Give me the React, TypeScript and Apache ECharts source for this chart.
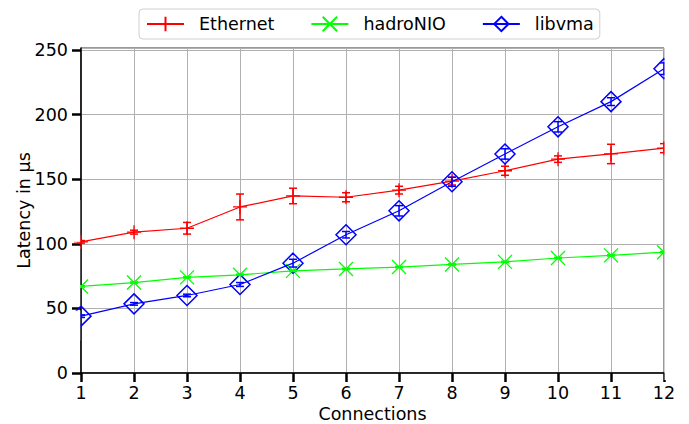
import React, { useEffect, useRef } from "react";
import * as echarts from "echarts";

const connections = [1, 2, 3, 4, 5, 6, 7, 8, 9, 10, 11, 12];
const ethernet = [101.5, 109, 112, 128.5, 137, 136, 141.5, 148.5, 156.5, 165.5, 169.5, 174];
const ethernetErr = [1, 1.5, 4.5, 10, 6, 3.5, 3, 3, 3.5, 2.5, 7.5, 3.5];
const hadroNIO = [67, 70, 74, 76, 79, 80.5, 82, 84, 86, 89, 91, 93.5];
const hadroNIOErr = [0.5, 0.5, 0.5, 0.5, 0.5, 0.5, 0.5, 0.5, 0.5, 0.5, 0.5, 0.5];
const libvma = [44, 53.5, 60, 68.5, 85, 107, 125.5, 148, 169.5, 190.5, 210, 235.5];
const libvmaErr = [1, 1, 1, 1.5, 3, 2.5, 4, 3.5, 4, 4, 3, 4.5];
const yTicks = [0, 50, 100, 150, 200, 250];

const FONT = "DejaVu Sans";
const FS = 17.5;
const PLUS = "path://M0,7 L14,7 M7,0 L7,14";
const CROSS = "path://M0,0 L14,14 M14,0 L0,14";
const DIAMOND = "path://M7,0 L14,7 L7,14 L0,7 Z";

function errSeries(name: string, vals: number[], errs: number[], color: string) {
  return {
    type: "custom",
    name: name + "_err",
    z: 5,
    silent: true,
    data: connections.map((c, i) => [c, vals[i] - errs[i], vals[i] + errs[i]]),
    renderItem: (params: any, api: any) => {
      const x = api.value(0);
      const p1 = api.coord([x, api.value(1)]);
      const p2 = api.coord([x, api.value(2)]);
      const w = 4;
      const st = { stroke: color, lineWidth: 1.5 };
      return {
        type: "group",
        children: [
          { type: "line", shape: { x1: p1[0], y1: p1[1], x2: p2[0], y2: p2[1] }, style: st },
          { type: "line", shape: { x1: p1[0] - w, y1: p1[1], x2: p1[0] + w, y2: p1[1] }, style: st },
          { type: "line", shape: { x1: p2[0] - w, y1: p2[1], x2: p2[0] + w, y2: p2[1] }, style: st },
        ],
      };
    },
  };
}

export default function App() {
  const ref = useRef<HTMLDivElement>(null);
  useEffect(() => {
    document.body.style.margin = "0";
    const chart = echarts.init(ref.current!, undefined, { renderer: "svg" });
    const white = { fill: "#fff" };
    chart.setOption({
      animation: false,
      backgroundColor: "#fff",
      textStyle: { fontFamily: FONT },
      grid: {
        left: 81,
        right: 25,
        top: 48,
        bottom: 51,
        show: true,
        borderColor: "#333",
        borderWidth: 1,
        containLabel: false,
        outerBoundsMode: "none",
      },
      legend: {
        left: 139,
        top: 9,
        padding: [6, 6, 6, 7],
        borderColor: "#d0d0d0",
        borderWidth: 1,
        borderRadius: 4,
        itemWidth: 37,
        itemHeight: 18,
        itemGap: 36,
        textStyle: { fontFamily: FONT, fontSize: FS, color: "#000", padding: [0, 0, 0, 10] },
        data: ["Ethernet", "hadroNIO", "libvma"],
      },
      graphic: [
        { type: "rect", z: 100, shape: { x: 664.6, y: 40, width: 30, height: 340 }, style: white },
        { type: "rect", z: 100, shape: { x: 69, y: 200, width: 11.2, height: 41.8 }, style: white },
        { type: "rect", z: 100, shape: { x: 69, y: 246.4, width: 11.2, height: 59.6 }, style: white },
        { type: "rect", z: 100, shape: { x: 69, y: 310.6, width: 11.2, height: 30 }, style: white },
      ],
      xAxis: {
        type: "value",
        min: 1,
        max: 12,
        interval: 1,
        name: "Connections",
        nameLocation: "middle",
        nameGap: 32,
        nameMoveOverlap: false,
        nameTextStyle: { fontFamily: FONT, fontSize: FS, color: "#000" },
        axisLine: { show: true, lineStyle: { color: "#000", width: 1.5 } },
        axisTick: { show: true, length: 9, lineStyle: { color: "#000", width: 2.5 } },
        axisLabel: { fontFamily: FONT, fontSize: FS, color: "#000", margin: 11 },
        splitLine: { show: true, lineStyle: { color: "#b0b0b0", width: 1 } },
      },
      yAxis: {
        type: "value",
        min: 0,
        max: 251.5,
        interval: 50,
        name: "Latency in µs",
        nameLocation: "middle",
        nameGap: 48.5,
        nameMoveOverlap: false,
        nameTextStyle: { fontFamily: FONT, fontSize: FS, color: "#000" },
        axisLine: { show: true, lineStyle: { color: "#000", width: 1.5 } },
        axisTick: { show: true, length: 9, lineStyle: { color: "#000", width: 2.5 } },
        axisLabel: {
          fontFamily: FONT,
          fontSize: FS,
          color: "#000",
          margin: 13,
          showMaxLabel: false,
          formatter: (v: number) => (yTicks.includes(v) ? String(v) : ""),
        },
        splitLine: { show: true, lineStyle: { color: "#b0b0b0", width: 1 } },
      },
      series: [
        {
          type: "line",
          name: "Ethernet",
          data: connections.map((c, i) => [c, ethernet[i]]),
          symbol: PLUS,
          symbolSize: 14,
          lineStyle: { color: "#ff0000", width: 1.2 },
          itemStyle: { color: "#ff0000", borderColor: "#ff0000", borderWidth: 1.3 },
          z: 3,
        },
        {
          type: "line",
          name: "hadroNIO",
          data: connections.map((c, i) => [c, hadroNIO[i]]),
          symbol: CROSS,
          symbolSize: 14,
          lineStyle: { color: "#00ff00", width: 1.2 },
          itemStyle: { color: "#00ff00", borderColor: "#00ff00", borderWidth: 1.3 },
          z: 2,
        },
        {
          type: "line",
          name: "libvma",
          data: connections.map((c, i) => [c, libvma[i]]),
          symbol: DIAMOND,
          symbolSize: 20,
          lineStyle: { color: "#0000ff", width: 1.2 },
          itemStyle: { color: "rgba(255,255,255,0)", borderColor: "#0000ff", borderWidth: 1.5 },
          z: 4,
        },
        errSeries("Ethernet", ethernet, ethernetErr, "#ff0000"),
        errSeries("hadroNIO", hadroNIO, hadroNIOErr, "#00ff00"),
        errSeries("libvma", libvma, libvmaErr, "#0000ff"),
      ],
    });
    return () => chart.dispose();
  }, []);
  return <div ref={ref} style={{ width: 689, height: 424 }} />;
}
